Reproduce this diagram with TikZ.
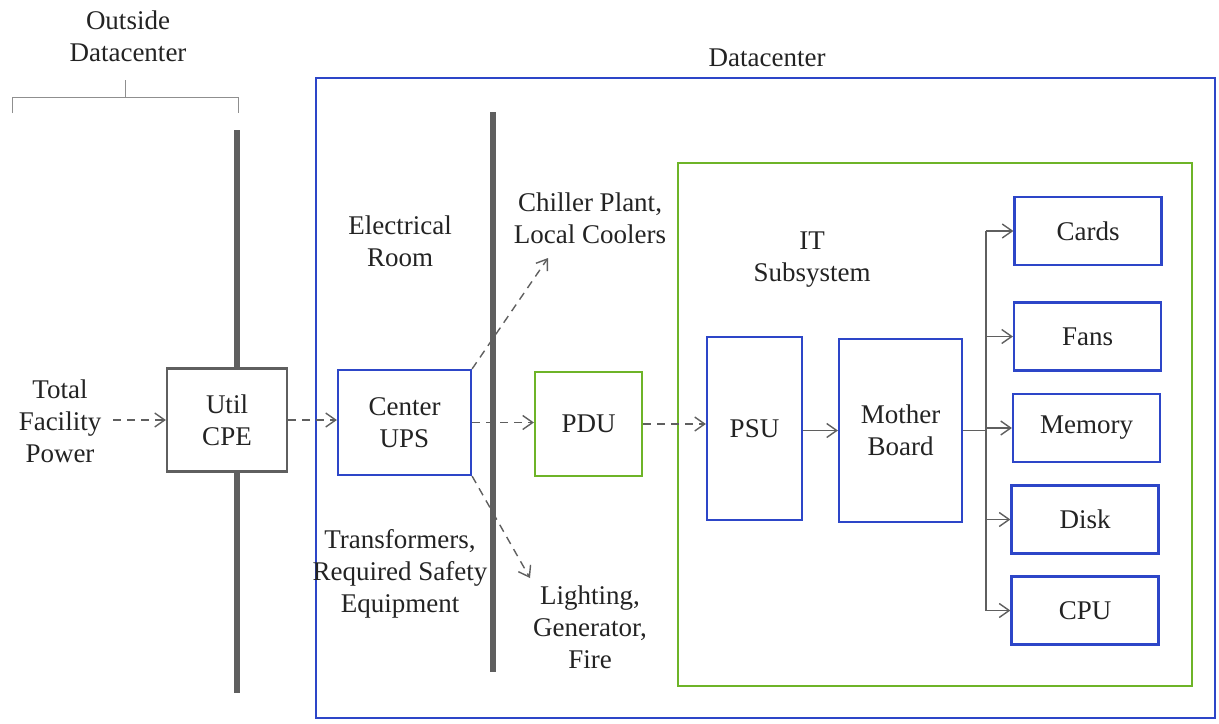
\documentclass[tikz,border=0pt]{standalone}
\usepackage{fontspec}
\setmainfont{Liberation Serif}
\usetikzlibrary{arrows.meta}
\definecolor{bblue}{RGB}{45,70,200}
\definecolor{ggreen}{RGB}{110,180,40}
\definecolor{lgray}{RGB}{95,95,95}
\definecolor{tgray}{RGB}{35,35,35}
\begin{document}
\begin{tikzpicture}[x=0.5pt,y=-0.5pt,
  lbl/.style={align=center,text=tgray,font=\fontsize{13.5}{16}\selectfont,inner sep=0pt},
  bx/.style={draw=bblue,line width=1.1pt,fill=white,align=center,text=tgray,
             font=\fontsize{13.5}{16}\selectfont,inner sep=0pt},
  gbx/.style={bx,draw=ggreen},
  cbx/.style={bx,draw=lgray},
  conn/.style={draw=lgray,line width=0.7pt,-{Straight Barb[length=5pt,width=7pt]}},
  dconn/.style={conn,dash pattern=on 4pt off 3pt},
  wall/.style={draw=lgray,line width=3pt}]
\useasboundingbox (0,0) rectangle (1219,723);
% group frames
\draw[bblue,line width=1.2pt] (316,78) rectangle (1215,718);
\draw[ggreen,line width=1.2pt] (678,163) rectangle (1192,686);
% walls
\draw[wall] (237,130) -- (237,693);
\draw[wall] (493,112) -- (493,672);
% brace
\draw[lgray!70,line width=0.5pt] (12,113) -- (12,97) -- (238,97) -- (238,113);
\draw[lgray!70,line width=0.5pt] (125,97) -- (125,80);
% labels
\node[lbl] (outside) at (128,36) {Outside\\Datacenter};
\node[lbl] (dc) at (767,58) {Datacenter};
\node[lbl] (tfp) at (60,421) {Total\\Facility\\Power};
\node[lbl] (eroom) at (400,241) {Electrical\\Room};
\node[lbl] (chiller) at (590,218) {Chiller Plant,\\Local Coolers};
\node[lbl] (trans) at (400,574) {Transformers,\\Required Safety\\Equipment};
\node[lbl] (light) at (590,627) {Lighting,\\Generator,\\Fire};
\node[lbl] (its) at (812,260) {IT\\Subsystem};
% boxes
\node[cbx,minimum width=60pt,minimum height=51.5pt] (ucpe) at (227,420) {Util\\CPE};
\node[bx,minimum width=66.5pt,minimum height=52.5pt] (ups) at (404.5,422.5) {Center\\UPS};
\node[gbx,minimum width=53.5pt,minimum height=52pt] (pdu) at (588.5,424) {PDU};
\node[bx,minimum width=47.5pt,minimum height=91.5pt] (psu) at (754.5,428.5) {PSU};
\node[bx,minimum width=61.5pt,minimum height=91.5pt] (mb) at (900.5,430.5) {Mother\\Board};
\node[bx,minimum width=73.5pt,minimum height=34pt] (cards) at (1088,231) {Cards};
\node[bx,minimum width=73.5pt,minimum height=34pt] (fans) at (1087.5,336.5) {Fans};
\node[bx,minimum width=73.5pt,minimum height=34pt] (mem) at (1086.5,428) {Memory};
\node[bx,minimum width=73.5pt,minimum height=34pt] (disk) at (1085,519.5) {Disk};
\node[bx,minimum width=73.5pt,minimum height=34pt] (cpu) at (1085,610.5) {CPU};
% connectors
\coordinate (src) at (113,420);
\draw[dconn] (src) -- (ucpe.west);
\draw[dconn] (ucpe.east) -- (ups.west |- ucpe.east);
\draw[dconn] (ups.east) -- (pdu.west |- ups.east);
\draw[dconn] (pdu.east) -- (psu.west |- pdu.east);
\coordinate (chtip) at (548,258);
\coordinate (lttip) at (530,578);
\draw[dconn] (ups.north east) -- (chtip);
\draw[dconn] (ups.south east) -- (lttip);
\draw[conn] (psu.east |- mb.west) -- (mb.west);
\coordinate (bt) at (986,231);
\coordinate (bb) at (986,610.5);
\draw[lgray,line width=0.7pt] (bt) -- (bb);
\draw[lgray,line width=0.7pt] (mb.east) -- (mb.east -| bt);
\draw[conn] (cards.west -| bt) -- (cards.west);
\draw[conn] (fans.west -| bt) -- (fans.west);
\draw[conn] (mem.west -| bt) -- (mem.west);
\draw[conn] (disk.west -| bt) -- (disk.west);
\draw[conn] (cpu.west -| bt) -- (cpu.west);
\end{tikzpicture}
\end{document}
